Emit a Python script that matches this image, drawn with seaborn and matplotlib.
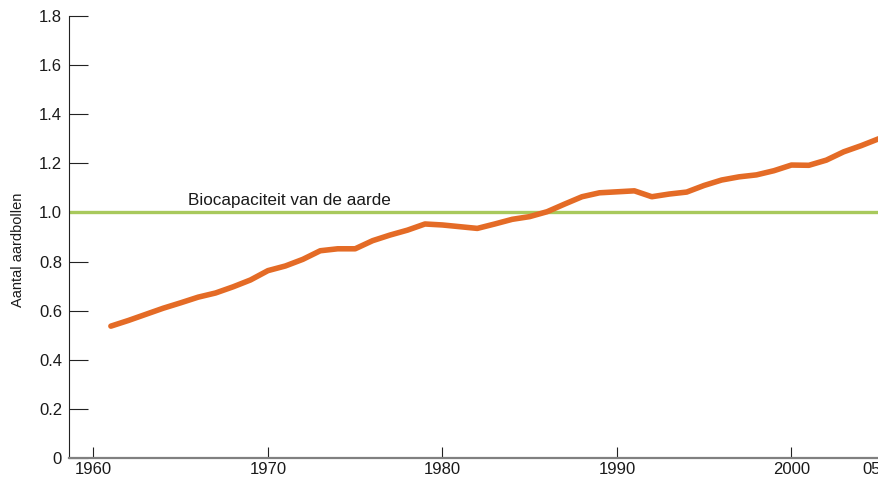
import matplotlib
matplotlib.use("Agg")
import matplotlib.pyplot as plt
import matplotlib.transforms as mtransforms
import seaborn as sns
import pandas as pd

# Ecological footprint of humanity, in number of earths
years = list(range(1961, 2006))
aardbollen = [0.537, 0.560, 0.585, 0.610, 0.632, 0.655, 0.672, 0.697, 0.725, 0.763,
              0.782, 0.809, 0.844, 0.852, 0.852, 0.885, 0.908, 0.928, 0.953, 0.949,
              0.942, 0.935, 0.953, 0.972, 0.983, 1.003, 1.034, 1.064, 1.080, 1.084,
              1.088, 1.064, 1.075, 1.083, 1.110, 1.132, 1.145, 1.153, 1.170, 1.193,
              1.192, 1.213, 1.247, 1.272, 1.300]
biocapaciteit = 1.0
biocap_label = "Biocapaciteit van de aarde"
x_ticks = [1960, 1970, 1980, 1990, 2000, 2005]
x_ticklabels = ["1960", "1970", "1980", "1990", "2000", "05"]
y_ticks = [0, 0.2, 0.4, 0.6, 0.8, 1.0, 1.2, 1.4, 1.6, 1.8]
y_ticklabels = ["0", "0.2", "0.4", "0.6", "0.8", "1.0", "1.2", "1.4", "1.6", "1.8"]

df = pd.DataFrame({"jaar": years, "aardbollen": aardbollen})

sns.set_style("ticks")
plt.rcParams['font.family'] = ['Liberation Sans', 'DejaVu Sans']

fig = plt.figure(figsize=(8.79, 4.79), dpi=100)
ax = fig.add_axes([69 / 879, 21 / 479, 810 / 879, 442 / 479])

ax.axhline(biocapaciteit, color="#a8c95c", linewidth=2.4, zorder=1)
sns.lineplot(data=df, x="jaar", y="aardbollen", ax=ax, color="#e46b26",
             linewidth=4.0, zorder=2)
ax.text(1965.4, biocapaciteit + 0.018, biocap_label, fontsize=12.3,
        color="#1a1a1a", ha="left", va="bottom")

ax.set_xlim(1958.6, 2005.02)
ax.set_ylim(0, 1.8)
ax.set_xticks(x_ticks)
ax.set_xticklabels(x_ticklabels)
ax.set_yticks(y_ticks)
ax.set_yticklabels(y_ticklabels)

ax.set_xlabel("")
ax.set_ylabel("Aantal aardbollen", fontsize=10.5, color="#1a1a1a")
ax.yaxis.set_label_coords(-0.054, 0.47)

ax.tick_params(axis="y", direction="in", length=13.5, width=0.8, color="#222222",
               labelsize=12, labelcolor="#1a1a1a", pad=5)
ax.tick_params(axis="x", direction="in", length=8, width=0.8, color="#222222",
               labelsize=12, labelcolor="#1a1a1a", pad=3)

# the "05" label sits at the cut edge of the original, shifted a little left
last = ax.get_xticklabels()[-1]
last.set_transform(last.get_transform() +
                   mtransforms.ScaledTranslation(-5 / 72, 0, fig.dpi_scale_trans))

for side in ["top", "right"]:
    ax.spines[side].set_visible(False)
ax.spines["left"].set_color("#222222")
ax.spines["left"].set_linewidth(0.8)
ax.spines["bottom"].set_color("#808080")
ax.spines["bottom"].set_linewidth(1.6)

fig.savefig("out.png", dpi=100)
plt.close(fig)
